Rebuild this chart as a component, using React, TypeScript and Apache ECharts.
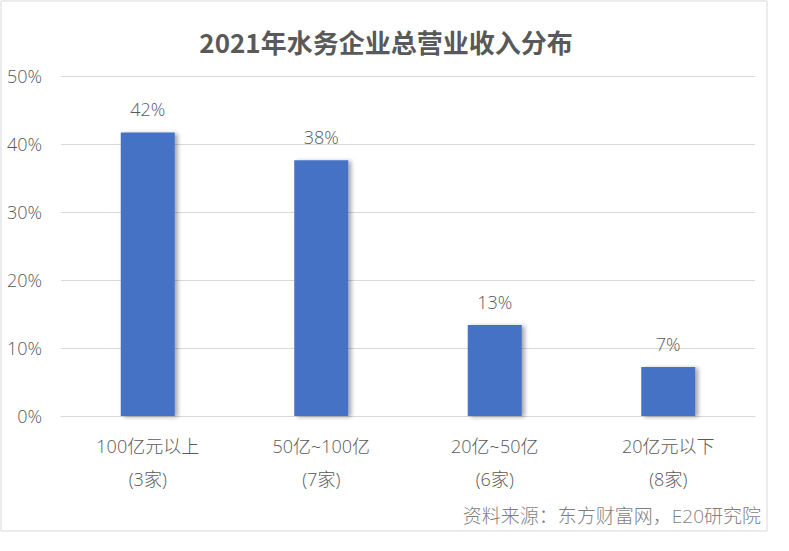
import React, { useEffect, useRef } from "react";
import * as echarts from "echarts";

const categories = ["100亿元以上\n(3家)", "50亿~100亿\n(7家)", "20亿~50亿\n(6家)", "20亿元以下\n(8家)"];
const shares = [41.7, 37.6, 13.4, 7.2];
const titleText = "2021年水务企业总营业收入分布";
const sourceText = "资料来源：东方财富网，E20研究院";

const FONT = "'Open Sans', 'Noto Sans CJK SC', sans-serif";
const TITLE_FONT = "'Noto Sans CJK SC', sans-serif";

export default function App() {
  const ref = useRef<HTMLDivElement>(null);
  useEffect(() => {
    document.body.style.margin = "0";
    const chart = echarts.init(ref.current!, null, { renderer: "svg" });
    chart.setOption({
      animation: false,
      backgroundColor: "#ffffff",
      textStyle: { fontFamily: FONT },
      title: {
        text: titleText,
        left: 381,
        top: 23,
        textAlign: "center",
        textStyle: { fontSize: 26, fontWeight: "bold", color: "#595959", fontFamily: TITLE_FONT },
      },
      graphic: [
        {
          type: "rect",
          shape: { x: 1, y: 1, width: 766, height: 530 },
          style: { fill: "none", stroke: "#d9d9d9", lineWidth: 1 },
          silent: true,
        },
        {
          type: "text",
          right: 28,
          top: 506,
          style: { text: sourceText, fontSize: 19, fontWeight: 300, fill: "#7f7f7f", fontFamily: FONT },
        },
      ],
      grid: { left: 61, right: 34, top: 76, bottom: 135, containLabel: false },
      xAxis: {
        type: "category",
        data: categories,
        axisLine: { lineStyle: { color: "#d9d9d9" } },
        axisTick: { show: false },
        axisLabel: {
          color: "#595959",
          fontSize: 18,
          fontWeight: 300,
          lineHeight: 33,
          margin: 13,
          fontFamily: FONT,
        },
      },
      yAxis: {
        type: "value",
        min: 0,
        max: 50,
        interval: 10,
        axisLine: { show: false },
        axisTick: { show: false },
        splitLine: { lineStyle: { color: "#d9d9d9" } },
        axisLabel: {
          color: "#595959",
          fontSize: 18,
          fontWeight: 300,
          margin: 19,
          formatter: "{value}%",
          fontFamily: FONT,
        },
      },
      series: [
        {
          type: "bar",
          data: shares,
          barWidth: 54,
          itemStyle: {
            color: "#4472C4",
            shadowColor: "rgba(0,0,0,0.35)",
            shadowBlur: 4,
            shadowOffsetX: 3,
            shadowOffsetY: 1,
          },
          label: {
            show: true,
            position: "top",
            distance: 14,
            color: "#595959",
            fontSize: 18,
            fontWeight: 300,
            fontFamily: FONT,
            formatter: (p: any) => Math.round(p.value) + "%",
          },
        },
      ],
    });
    return () => chart.dispose();
  }, []);
  return <div ref={ref} style={{ width: 789, height: 551, position: "absolute", left: 0, top: 0 }} />;
}
